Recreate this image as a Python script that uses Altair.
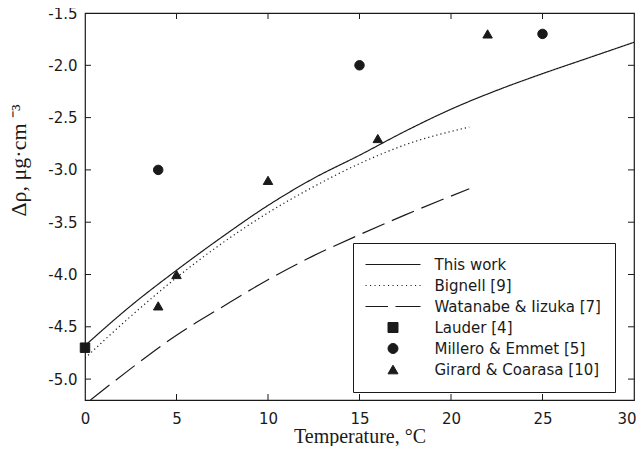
import altair as alt
import pandas as pd

# ---- data ----
work_t = [0, 2.5, 5, 7.5, 10, 12.5, 15, 17.5, 20, 22.5, 25, 27.5, 30]
work_v = [-4.68, -4.30, -3.96, -3.64, -3.34, -3.08, -2.86, -2.63, -2.42, -2.24, -2.08, -1.93, -1.78]

bignell_t = [0, 2.5, 5, 7.5, 10, 12.5, 15, 17.5, 21]
bignell_v = [-4.80, -4.40, -4.03, -3.70, -3.41, -3.16, -2.94, -2.76, -2.59]

watanabe_t = [0.3, 2.5, 5, 7.5, 10, 12.5, 15, 17.5, 21]
watanabe_v = [-5.20, -4.90, -4.58, -4.31, -4.05, -3.82, -3.62, -3.43, -3.18]

lauder_t = [0]
lauder_v = [-4.7]
millero_t = [4, 15, 25]
millero_v = [-3.0, -2.0, -1.7]
girard_t = [4, 5, 10, 16, 22]
girard_v = [-4.3, -4.0, -3.1, -2.7, -1.7]

series_names = ["This work", "Bignell [9]", "Watanabe & Iizuka [7]",
                "Lauder [4]", "Millero & Emmet [5]", "Girard & Coarasa [10]"]

x_ticks = [0, 5, 10, 15, 20, 25, 30]
y_ticks = [-5.0, -4.5, -4.0, -3.5, -3.0, -2.5, -2.0, -1.5]
x_inner_ticks = [5, 10, 15, 20, 25]
y_inner_ticks = [-5.0, -4.5, -4.0, -3.5, -3.0, -2.5, -2.0]

# ---- tables ----
lines = pd.concat([
    pd.DataFrame({"t": work_t, "v": work_v, "series": series_names[0]}),
    pd.DataFrame({"t": bignell_t, "v": bignell_v, "series": series_names[1]}),
    pd.DataFrame({"t": watanabe_t, "v": watanabe_v, "series": series_names[2]}),
], ignore_index=True)

points = pd.concat([
    pd.DataFrame({"t": lauder_t, "v": lauder_v, "series": series_names[3]}),
    pd.DataFrame({"t": millero_t, "v": millero_v, "series": series_names[4]}),
    pd.DataFrame({"t": girard_t, "v": girard_v, "series": series_names[5]}),
], ignore_index=True)

xt = pd.DataFrame({"t": x_inner_ticks})
yt = pd.DataFrame({"v": y_inner_ticks})

W, H = 549, 387
INK = "#1a1a1a"

xscale = alt.Scale(domain=[0, 30], nice=False, zero=False)
yscale = alt.Scale(domain=[-5.2, -1.5], nice=False, zero=False)

minus_expr_y = "(datum.value < 0 ? '-' : '') + format(abs(datum.value), '.1f')"

x_axis = alt.Axis(values=x_ticks, ticks=False, tickSize=0, domain=False, grid=False,
                  labelFlush=False,
                  labelAlign=alt.expr("datum.value >= 30 ? 'right' : 'center'"),
                  labelOffset=alt.expr("datum.value >= 30 ? 2 : 0"),
                  labelFont="DejaVu Sans", labelFontSize=15, labelColor=INK,
                  labelPadding=11, title="Temperature, °C", titleFont="Liberation Serif",
                  titleFontSize=20, titleFontWeight="normal", titleColor=INK,
                  titleBaseline="alphabetic", titleY=42)
y_axis = alt.Axis(values=y_ticks, ticks=False, tickSize=0, domain=False, grid=False,
                  labelFlush=False, labelExpr=minus_expr_y,
                  labelFont="DejaVu Sans", labelFontSize=15, labelColor=INK,
                  labelPadding=8, title="Δρ, μg·cm ⁻³", titleFont="Liberation Serif",
                  titleFontSize=22, titleFontWeight="normal", titleColor=INK,
                  titleBaseline="alphabetic", titleAngle=270, titleX=-60, titleY=147)

def dots_path():
    parts = []
    k = 0
    while -5.5 + 0.9 * k <= 5.5:
        x0 = -5.5 + 0.9 * k
        parts.append(f"M{x0:.2f},0L{x0 + 0.22:.2f},0")
        k += 1
    return "".join(parts)

solid_path = "M-5.5,0L5.5,0"
dashed_path = "M-5.5,0L-1,0M0.5,0L5.5,0"
shape_range = [solid_path, dots_path(), dashed_path, "square", "circle", "triangle-up"]

line_layer = alt.Chart(lines).mark_line(color=INK, strokeWidth=1.2, interpolate="monotone", clip=True).encode(
    x=alt.X("t:Q", scale=xscale, axis=x_axis),
    y=alt.Y("v:Q", scale=yscale, axis=y_axis),
    strokeDash=alt.StrokeDash("series:N",
                              scale=alt.Scale(domain=series_names[:3], range=[[1, 0], [1.2, 3], [24, 8]]),
                              legend=None),
    detail="series:N",
)

point_layer = alt.Chart(points).mark_point(filled=True, color=INK, fill=INK, stroke=INK,
                                           strokeWidth=1, size=90, opacity=1).encode(
    x=alt.X("t:Q", scale=xscale),
    y=alt.Y("v:Q", scale=yscale),
    shape=alt.Shape("series:N", scale=alt.Scale(domain=series_names, range=shape_range),
                    legend=alt.Legend(title=None, orient="none", legendX=268, legendY=230,
                                      padding=14, strokeColor=INK, fillColor="white",
                                      symbolSize=100, symbolOpacity=1,
                                      symbolStrokeWidth=1, symbolOffset=18.5, labelOffset=34,
                                      rowPadding=5, labelFont="DejaVu Sans", labelFontSize=15,
                                      labelColor=INK, labelLimit=400)),
)

tick_bottom = alt.Chart(xt).mark_rule(color=INK, strokeWidth=1).encode(
    x=alt.X("t:Q", scale=xscale), y=alt.value(H), y2=alt.value(H - 6))
tick_top = alt.Chart(xt).mark_rule(color=INK, strokeWidth=1).encode(
    x=alt.X("t:Q", scale=xscale), y=alt.value(0), y2=alt.value(6))
tick_left = alt.Chart(yt).mark_rule(color=INK, strokeWidth=1).encode(
    y=alt.Y("v:Q", scale=yscale), x=alt.value(0), x2=alt.value(6))
tick_right = alt.Chart(yt).mark_rule(color=INK, strokeWidth=1).encode(
    y=alt.Y("v:Q", scale=yscale), x=alt.value(W), x2=alt.value(W - 6))

chart = alt.layer(line_layer, point_layer, tick_bottom, tick_top, tick_left, tick_right).properties(
    width=W, height=H,
    autosize=alt.AutoSizeParams(type="none"),
    padding={"left": 77, "top": 5, "right": 2, "bottom": 46},
    background="white",
).configure_view(stroke=INK, strokeWidth=1.2)

chart.save("out.html", embed_options={"renderer": "svg", "actions": False})
